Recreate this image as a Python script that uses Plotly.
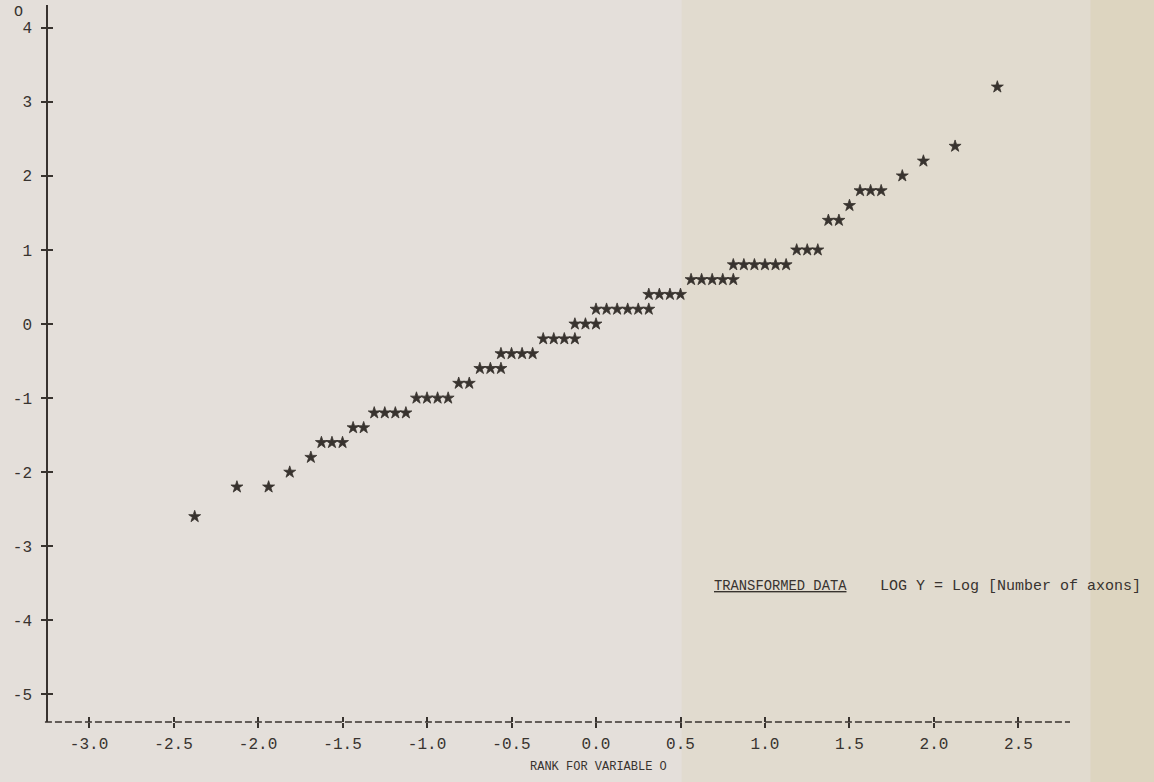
import plotly.graph_objects as go

# Normal rank scores (x) and log-transformed values (y)
rank_scores = [
    -2.375,
    -2.125, -1.9375,
    -1.8125,
    -1.6875,
    -1.625, -1.5625, -1.5,
    -1.4375, -1.375,
    -1.3125, -1.25, -1.1875, -1.125,
    -1.0625, -1.0, -0.9375, -0.875,
    -0.8125, -0.75,
    -0.6875, -0.625, -0.5625,
    -0.5625, -0.5, -0.4375, -0.375,
    -0.3125, -0.25, -0.1875, -0.125,
    -0.125, -0.0625, 0.0,
    0.0, 0.0625, 0.125, 0.1875, 0.25, 0.3125,
    0.3125, 0.375, 0.4375, 0.5,
    0.5625, 0.625, 0.6875, 0.75, 0.8125,
    0.8125, 0.875, 0.9375, 1.0, 1.0625, 1.125,
    1.1875, 1.25, 1.3125,
    1.375, 1.4375,
    1.5,
    1.5625, 1.625, 1.6875,
    1.8125,
    1.9375,
    2.125,
    2.375,
]
log_values = [
    -2.6,
    -2.2, -2.2,
    -2.0,
    -1.8,
    -1.6, -1.6, -1.6,
    -1.4, -1.4,
    -1.2, -1.2, -1.2, -1.2,
    -1.0, -1.0, -1.0, -1.0,
    -0.8, -0.8,
    -0.6, -0.6, -0.6,
    -0.4, -0.4, -0.4, -0.4,
    -0.2, -0.2, -0.2, -0.2,
    0.0, 0.0, 0.0,
    0.2, 0.2, 0.2, 0.2, 0.2, 0.2,
    0.4, 0.4, 0.4, 0.4,
    0.6, 0.6, 0.6, 0.6, 0.6,
    0.8, 0.8, 0.8, 0.8, 0.8, 0.8,
    1.0, 1.0, 1.0,
    1.4, 1.4,
    1.6,
    1.8, 1.8, 1.8,
    2.0,
    2.2,
    2.4,
    3.2,
]

x_ticks = [-3.0, -2.5, -2.0, -1.5, -1.0, -0.5, 0.0, 0.5, 1.0, 1.5, 2.0, 2.5]
x_tick_labels = ["-3.0", "-2.5", "-2.0", "-1.5", "-1.0", "-0.5", "0.0", "0.5", "1.0", "1.5", "2.0", "2.5"]
y_ticks = [-5, -4, -3, -2, -1, 0, 1, 2, 3, 4]
y_tick_labels = ["-5", "-4", "-3", "-2", "-1", "0", "1", "2", "3", "4"]

x_range = [-3.243, 2.805]
y_range = [-5.373, 4.307]

INK = "#38332f"
MONO = "Liberation Mono, Courier New, monospace"

fig = go.Figure()
fig.add_trace(go.Scatter(
    x=rank_scores, y=log_values, mode="markers",
    marker=dict(symbol="star", size=9, color=INK, line=dict(width=0.8, color=INK)),
    showlegend=False, hoverinfo="x+y",
))
# invisible trace to activate the secondary (inside-tick) axes
fig.add_trace(go.Scatter(x=[x_range[0]], y=[y_range[0]], xaxis="x2", yaxis="y2",
                         mode="markers", marker=dict(opacity=0), showlegend=False,
                         hoverinfo="skip"))

common_tick = dict(ticklen=5, tickwidth=1.6, tickcolor=INK, showgrid=False,
                   zeroline=False, automargin=False)

fig.update_layout(
    width=1154, height=782,
    margin=dict(l=48, r=84, t=5, b=60),
    paper_bgcolor="#e4dfda",
    plot_bgcolor="rgba(0,0,0,0)",
    xaxis=dict(range=x_range, tickvals=x_ticks, ticktext=x_tick_labels,
               ticks="outside", showline=False, ticklabelstandoff=2,
               tickfont=dict(family=MONO, size=16, color=INK),
               **common_tick),
    yaxis=dict(range=y_range, tickvals=y_ticks, ticktext=y_tick_labels,
               ticks="outside", showline=True, linecolor=INK, linewidth=1.6,
               ticklabelstandoff=6,
               tickfont=dict(family=MONO, size=16, color=INK),
               **common_tick),
    xaxis2=dict(range=x_range, tickvals=x_ticks, overlaying="x", anchor="y2",
                side="bottom", ticks="inside", showticklabels=False, showline=False,
                **common_tick),
    yaxis2=dict(range=y_range, tickvals=y_ticks, overlaying="y", anchor="x2",
                side="left", ticks="inside", showticklabels=False, showline=False,
                **common_tick),
    font=dict(family=MONO, color=INK),
)

# scanned-paper tint, more yellow toward the right
fig.add_shape(type="rect", xref="paper", yref="paper", x0=0.62, x1=1.09, y0=-0.09, y1=1.01,
              fillcolor="#e1dbcf", line=dict(width=0), layer="below")
fig.add_shape(type="rect", xref="paper", yref="paper", x0=1.02, x1=1.09, y0=-0.09, y1=1.01,
              fillcolor="#ddd5c0", line=dict(width=0), layer="below")

# dashed horizontal axis line (character-plot style)
fig.add_shape(type="line", xref="x domain", yref="y domain", x0=-0.003, x1=1.0, y0=0, y1=0,
              line=dict(color=INK, width=1.6, dash="7px,3px"))

# variable name above the vertical axis
fig.add_annotation(text="O", xref="paper", yref="paper", x=-0.029, y=0.99,
                   xanchor="center", yanchor="middle",
                   showarrow=False, font=dict(family=MONO, size=15, color=INK))

# horizontal axis title
fig.add_annotation(text="RANK FOR VARIABLE O", xref="paper", yref="paper",
                   x=0.539, y=-0.0628, xanchor="center", yanchor="middle", showarrow=False,
                   font=dict(family=MONO, size=12, color=INK))

fig.add_annotation(text="<u>TRANSFORMED DATA</u>", xref="paper", yref="paper",
                   x=0.650, y=0.189, xanchor="left", yanchor="middle", showarrow=False,
                   font=dict(family=MONO, size=13.8, color=INK))
fig.add_annotation(text="LOG Y = Log [Number of axons]", xref="paper", yref="paper",
                   x=0.812, y=0.189, xanchor="left", yanchor="middle", showarrow=False,
                   font=dict(family=MONO, size=15, color=INK))

fig.write_html("out.html", config={"displayModeBar": False},
               post_script="document.body.style.margin='0';document.body.style.overflow='hidden';")
